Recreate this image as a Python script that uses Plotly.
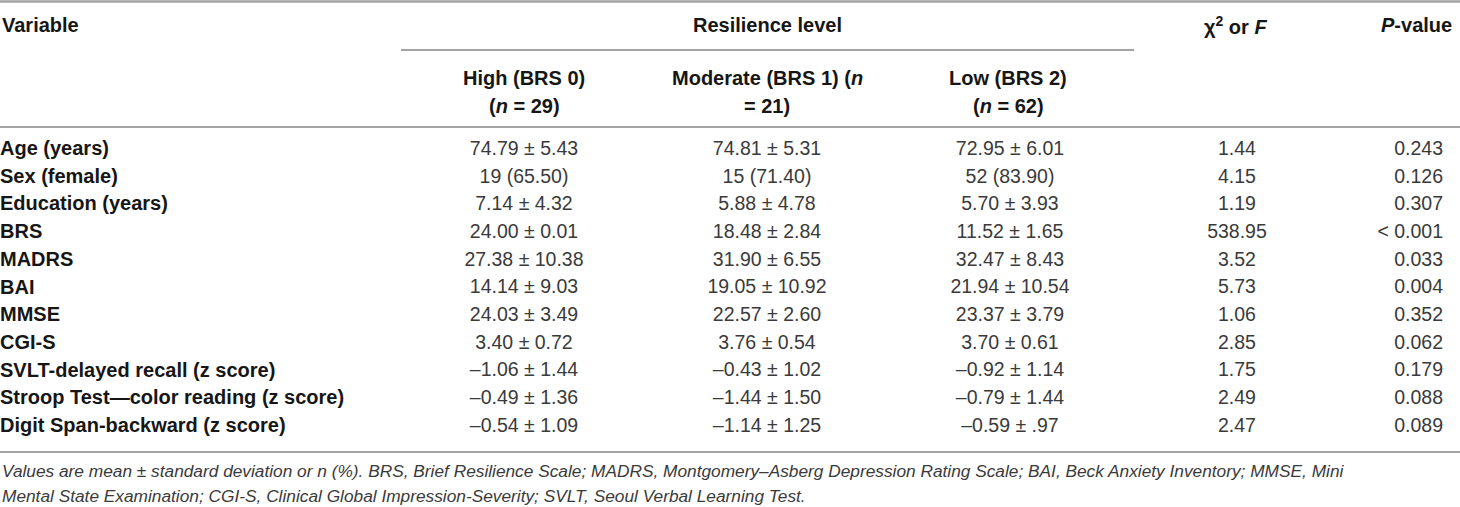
import plotly.graph_objects as go

# table content
variables = ["Age (years)", "Sex (female)", "Education (years)", "BRS", "MADRS",
             "BAI", "MMSE", "CGI-S", "SVLT-delayed recall (z score)",
             "Stroop Test\u2014color reading (z score)", "Digit Span-backward (z score)"]
high = ["74.79 ± 5.43", "19 (65.50)", "7.14 ± 4.32", "24.00 ± 0.01", "27.38 ± 10.38",
        "14.14 ± 9.03", "24.03 ± 3.49", "3.40 ± 0.72", "\u20131.06 ± 1.44",
        "\u20130.49 ± 1.36", "\u20130.54 ± 1.09"]
moderate = ["74.81 ± 5.31", "15 (71.40)", "5.88 ± 4.78", "18.48 ± 2.84", "31.90 ± 6.55",
            "19.05 ± 10.92", "22.57 ± 2.60", "3.76 ± 0.54", "\u20130.43 ± 1.02",
            "\u20131.44 ± 1.50", "\u20131.14 ± 1.25"]
low = ["72.95 ± 6.01", "52 (83.90)", "5.70 ± 3.93", "11.52 ± 1.65", "32.47 ± 8.43",
       "21.94 ± 10.54", "23.37 ± 3.79", "3.70 ± 0.61", "\u20130.92 ± 1.14",
       "\u20130.79 ± 1.44", "\u20130.59 ± .97"]
stat = ["1.44", "4.15", "1.19", "538.95", "3.52", "5.73", "1.06", "2.85", "1.75", "2.49", "2.47"]
p_values = ["0.243", "0.126", "0.307", "< 0.001", "0.033", "0.004", "0.352", "0.062",
            "0.179", "0.088", "0.089"]

group_line1 = ["High (BRS 0)", "Moderate (BRS 1) (<i>n</i>", "Low (BRS 2)"]
group_line2 = ["(<i>n</i> = 29)", "= 21)", "(<i>n</i> = 62)"]
footnote = ["Values are mean ± standard deviation or n (%). BRS, Brief Resilience Scale; "
            "MADRS, Montgomery\u2013Asberg Depression Rating Scale; BAI, Beck Anxiety Inventory; "
            "MMSE, Mini",
            "Mental State Examination; CGI-S, Clinical Global Impression-Severity; "
            "SVLT, Seoul Verbal Learning Test."]

W, H = 1460, 507
FONT = "Liberation Sans, Arial, Helvetica, sans-serif"
LINE = "#a3a3a3"
ROW_TOP, ROW_H = 150, 27.7
row_y = [ROW_TOP + i * ROW_H for i in range(len(variables))]

x_var, x_high, x_mod, x_low, x_stat, x_p = 0, 524, 767, 1010, 1237, 1443

fig = go.Figure()

# body cells
fig.add_trace(go.Scatter(x=[x_var] * len(variables), y=row_y, mode="text",
                         text=["<b>%s</b>" % v for v in variables],
                         textposition="middle right", marker=dict(size=1),
                         textfont=dict(family=FONT, size=20, color="#161616")))
for xc, col in [(x_high, high), (x_mod, moderate), (x_low, low), (x_stat, stat)]:
    fig.add_trace(go.Scatter(x=[xc] * len(col), y=row_y, mode="text", text=col,
                             textposition="middle center",
                             textfont=dict(family=FONT, size=19.5, color="#3a3a3a")))
fig.add_trace(go.Scatter(x=[x_p] * len(p_values), y=row_y, mode="text", text=p_values,
                         textposition="middle left", marker=dict(size=1),
                         textfont=dict(family=FONT, size=19.5, color="#3a3a3a")))

# header
hfont = dict(family=FONT, size=20, color="#161616")
fig.add_annotation(x=x_var, y=25, text="<b>Variable</b>", xanchor="left", font=hfont)
fig.add_annotation(x=767, y=25, text="<b>Resilience level</b>", xanchor="center", font=hfont)
fig.add_annotation(x=1235, y=25, text="<b>χ<sup>2</sup> or <i>F</i></b>",
                   xanchor="center", font=hfont)
fig.add_annotation(x=1454, y=25, text="<b><i>P</i>-value</b>", xanchor="right", font=hfont)
for xc, l1, l2 in zip([x_high, x_mod, 1008], group_line1, group_line2):
    fig.add_annotation(x=xc, y=78, text="<b>%s</b>" % l1, xanchor="center", font=hfont)
    fig.add_annotation(x=xc, y=106, text="<b>%s</b>" % l2, xanchor="center", font=hfont)

for yy, line in zip([471, 496], footnote):
    fig.add_annotation(x=x_var, y=yy, text="<i>%s</i>" % line, xanchor="left",
                       font=dict(family=FONT, size=17.3, color="#3a3a3a"))

# rules
for y0, x0, x1, lw in [(1.5, 0, W, 2.5), (50, 401, 1134, 1.8),
                       (127, 0, W, 2), (452, 0, W, 2)]:
    fig.add_shape(type="line", x0=x0, x1=x1, y0=y0, y1=y0,
                  line=dict(color=LINE, width=lw))

fig.update_layout(width=W, height=H, margin=dict(l=0, r=0, t=0, b=0),
                  plot_bgcolor="white", paper_bgcolor="white", showlegend=False)
fig.update_xaxes(range=[0, W], visible=False, fixedrange=True)
fig.update_yaxes(range=[H, 0], visible=False, fixedrange=True)
fig.update_annotations(showarrow=False)
fig.write_html("out.html", config={"displayModeBar": False},
               post_script="document.body.style.margin='0px';")
